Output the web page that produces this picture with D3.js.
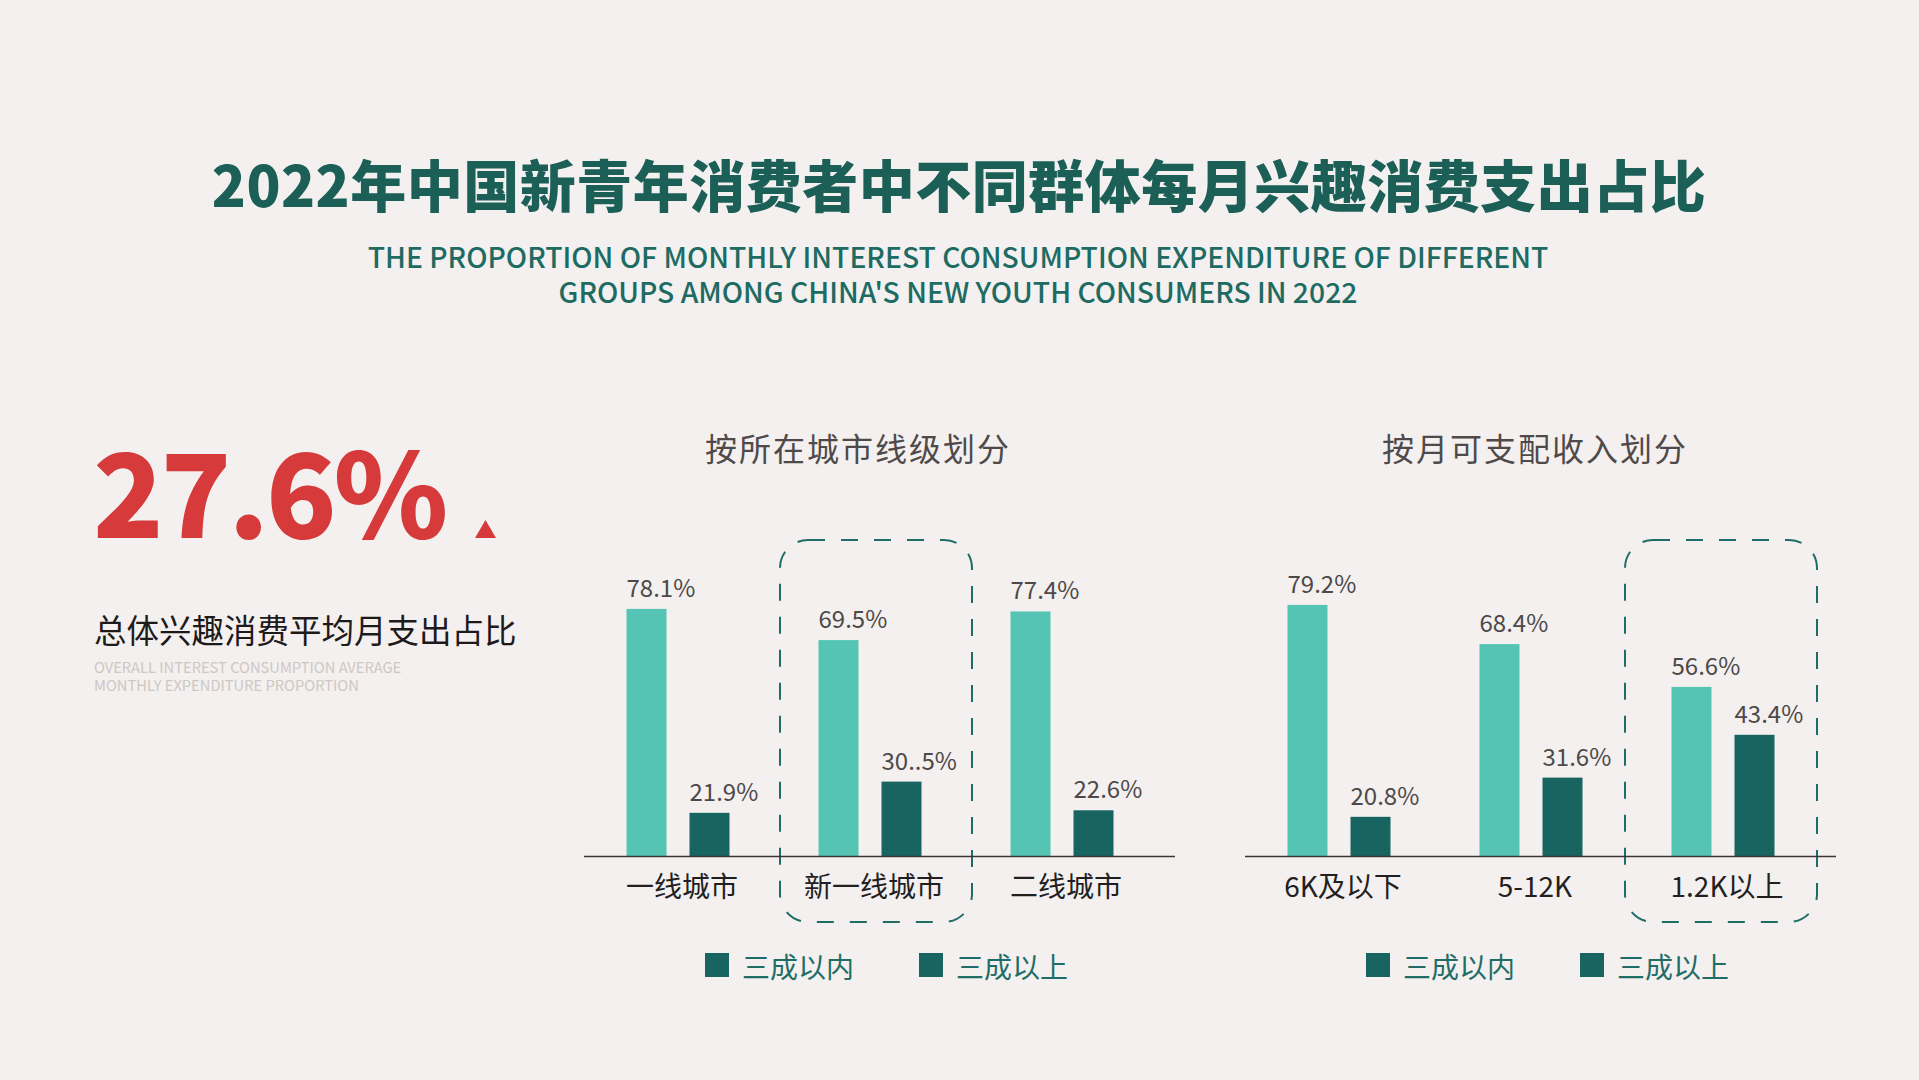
<!DOCTYPE html>
<html>
<head>
<meta charset="utf-8">
<script src="https://cdn.jsdelivr.net/npm/d3@7"></script>
<style>
  html, body { margin: 0; padding: 0; background: #f3f0ef; }
  svg { display: block; font-family: "Noto Sans CJK SC", "Noto Sans", sans-serif; }
</style>
</head>
<body>
<div id="chart"></div>
<script>
// data
const seriesNames = ['三成以内', '三成以上'];

const cityGroups = ['一线城市', '新一线城市', '二线城市'];
const cityWithin = [78.1, 69.5, 77.4];
const cityAbove = [21.9, 30.5, 22.6];
const cityWithinText = ['78.1%', '69.5%', '77.4%'];
const cityAboveText = ['21.9%', '30..5%', '22.6%'];

const incomeGroups = ['6K及以下', '5-12K', '1.2K以上'];
const incomeWithin = [79.2, 68.4, 56.6];
const incomeAbove = [20.8, 31.6, 43.4];
const incomeWithinText = ['79.2%', '68.4%', '56.6%'];
const incomeAboveText = ['20.8%', '31.6%', '43.4%'];

const overallValue = '27.6%';

const W = 1919, H = 1080;
const colors = {
  bg: '#f3f0ef',
  teal: '#1b5f57',
  light: '#55c4b4',
  dark: '#186461',
  red: '#d63a3a'
};

const svg = d3.select('#chart').append('svg')
  .attr('width', W)
  .attr('height', H);

svg.append('rect').attr('width', W).attr('height', H).attr('fill', colors.bg);

// headings
svg.append('text')
  .attr('x', 959).attr('y', 207)
  .attr('text-anchor', 'middle')
  .attr('font-size', 56).attr('font-weight', 800)
  .attr('letter-spacing', 0.5)
  .attr('fill', colors.teal)
  .text('2022年中国新青年消费者中不同群体每月兴趣消费支出占比');

const enTitle = ['THE PROPORTION OF MONTHLY INTEREST CONSUMPTION EXPENDITURE OF DIFFERENT',
  'GROUPS AMONG CHINA\'S NEW YOUTH CONSUMERS IN 2022'];
svg.selectAll('.en-title')
  .data(enTitle)
  .join('text')
  .attr('class', 'en-title')
  .attr('x', 958)
  .attr('y', (d, i) => 268 + i * 35)
  .attr('text-anchor', 'middle')
  .attr('font-size', 28.3).attr('font-weight', 500)
  .attr('fill', '#1d6b62')
  .text(d => d);

// big number on the left
svg.append('text')
  .attr('x', 93).attr('y', 538)
  .attr('font-size', 116).attr('font-weight', 900)
  .attr('letter-spacing', -3)
  .attr('fill', colors.red)
  .text(overallValue);

svg.append('path')
  .attr('d', 'M475,538 L496,538 L485.5,520 Z')
  .attr('fill', colors.red);

svg.append('text')
  .attr('x', 94).attr('y', 643)
  .attr('font-size', 32.5)
  .attr('fill', '#1e1a1a')
  .text('总体兴趣消费平均月支出占比');

svg.selectAll('.en-sub')
  .data(['OVERALL INTEREST CONSUMPTION AVERAGE', 'MONTHLY EXPENDITURE PROPORTION'])
  .join('text')
  .attr('class', 'en-sub')
  .attr('x', 94)
  .attr('y', (d, i) => 673 + i * 18)
  .attr('font-size', 14.7)
  .attr('fill', '#cfc7c3')
  .text(d => d);

class GroupedBarChart {

  constructor(_config, _groups, _within, _above, _withinText, _aboveText) {
    this.config = {
      left: _config.left,
      title: _config.title,
      titleX: _config.titleX,
      highlight: _config.highlight,
      boxShift: _config.boxShift,
      baseline: 856,
      barWidth: 40,
      step: 192
    };
    this.groups = _groups;
    this.within = _within;
    this.above = _above;
    this.withinText = _withinText;
    this.aboveText = _aboveText;
    this.initVis();
  }

  initVis() {
    let vis = this;
    const c = vis.config;

    vis.xScale = d3.scaleBand()
      .domain(vis.groups)
      .range([c.left, c.left + c.step * vis.groups.length]);

    // bar heights are not strictly proportional in the original, fitted scale
    vis.yScale = d3.scaleLinear()
      .domain([10, 80])
      .range([c.baseline, c.baseline - 254]);

    vis.g = svg.append('g');

    vis.g.append('text')
      .attr('x', c.titleX).attr('y', 461)
      .attr('text-anchor', 'middle')
      .attr('font-size', 32).attr('letter-spacing', 2)
      .attr('fill', '#4f4a49')
      .text(c.title);

    vis.updateVis();
  }

  updateVis() {
    let vis = this;
    vis.data = vis.groups.map((g, i) => [
      {group: g, key: 0, value: vis.within[i], label: vis.withinText[i]},
      {group: g, key: 1, value: vis.above[i], label: vis.aboveText[i]}
    ]).flat();
    vis.renderVis();
  }

  renderVis() {
    let vis = this;
    const c = vis.config;
    const barX = d => vis.xScale(d.group) + vis.xScale.bandwidth() / 2 + (d.key === 0 ? -51.5 : 11.5);

    // dashed highlight frame
    const hg = vis.groups[c.highlight];
    vis.g.append('rect')
      .attr('x', vis.xScale(hg) + c.boxShift)
      .attr('y', 540)
      .attr('width', vis.xScale.bandwidth())
      .attr('height', 382)
      .attr('rx', 28)
      .attr('fill', 'none')
      .attr('stroke', '#1f6e66')
      .attr('stroke-width', 2)
      .attr('stroke-dasharray', '17 16');

    vis.g.selectAll('.bar')
      .data(vis.data)
      .join('rect')
      .attr('class', 'bar')
      .attr('x', barX)
      .attr('width', c.barWidth)
      .attr('y', d => vis.yScale(d.value))
      .attr('height', d => c.baseline - vis.yScale(d.value))
      .attr('fill', d => d.key === 0 ? colors.light : colors.dark);

    vis.g.selectAll('.bar-label')
      .data(vis.data)
      .join('text')
      .attr('class', 'bar-label')
      .attr('x', barX)
      .attr('y', d => vis.yScale(d.value) - 12)
      .attr('font-size', 24)
      .attr('fill', '#4d4948')
      .text(d => d.label);

    vis.xAxis = d3.axisBottom(vis.xScale)
      .tickSize(0)
      .tickPadding(21);

    vis.xAxisG = vis.g.append('g')
      .attr('transform', `translate(0,${c.baseline})`)
      .call(vis.xAxis)
      .call(g => g.select('.domain').remove());

    vis.xAxisG.selectAll('text')
      .attr('font-size', 28)
      .attr('font-family', '"Noto Sans CJK SC", sans-serif')
      .attr('fill', '#231f1f')
      .attr('dx', 4);

    vis.g.append('line')
      .attr('x1', c.left + 2).attr('x2', c.left + 593)
      .attr('y1', c.baseline + 0.5).attr('y2', c.baseline + 0.5)
      .attr('stroke', '#3a3636')
      .attr('stroke-width', 1.5);

    // legend (both swatches are the dark colour in the original)
    const legend = vis.g.selectAll('.legend')
      .data(seriesNames)
      .join('g')
      .attr('class', 'legend')
      .attr('transform', (d, i) => `translate(${c.left + 123 + i * 214},953)`);

    legend.append('rect')
      .attr('width', 24).attr('height', 24)
      .attr('fill', colors.dark);

    legend.append('text')
      .attr('x', 37).attr('y', 25)
      .attr('font-size', 28)
      .attr('fill', '#1f6d66')
      .text(d => d);
  }
}

new GroupedBarChart({left: 582, title: '按所在城市线级划分', titleX: 858, highlight: 1, boxShift: 6},
  cityGroups, cityWithin, cityAbove, cityWithinText, cityAboveText);
new GroupedBarChart({left: 1243, title: '按月可支配收入划分', titleX: 1535, highlight: 2, boxShift: -2},
  incomeGroups, incomeWithin, incomeAbove, incomeWithinText, incomeAboveText);
</script>
</body>
</html>
